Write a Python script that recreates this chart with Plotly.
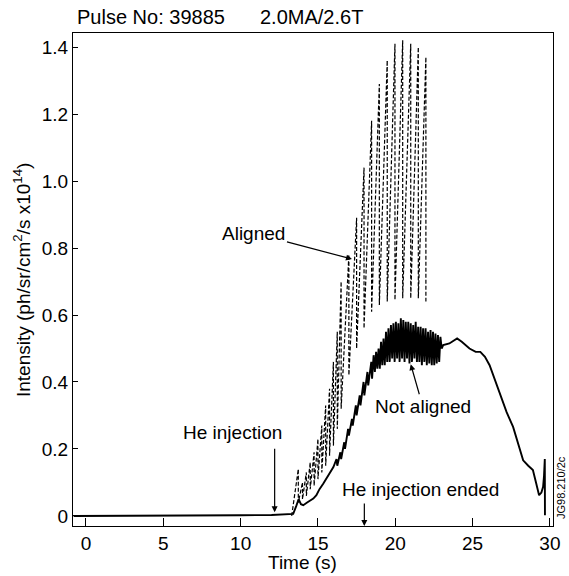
import plotly.graph_objects as go

# ---------------- data ----------------
# "Not aligned" (solid) trace: time (s) and intensity (x1e14)
na_time = [-0.8, 5.0, 10.0, 12.0, 13.0, 13.4, 13.6, 13.75, 13.9, 14.05, 14.3, 14.5, 14.7, 14.9,
           15.1, 15.35, 15.6, 15.8, 16.0, 16.2, 16.25, 16.45, 16.5, 16.7, 16.75, 16.95, 17.0,
           17.2, 17.25, 17.45, 17.5, 17.7, 17.75, 17.95, 18.0, 18.2, 18.25, 18.45, 18.5,
           18.60, 18.68, 18.76, 18.84, 18.92, 19.00, 19.08, 19.16, 19.24, 19.32, 19.40, 19.48,
           19.56, 19.64, 19.72, 19.80, 19.88, 19.96, 20.04, 20.12, 20.20, 20.28, 20.36, 20.44,
           20.52, 20.60, 20.68, 20.76, 20.84, 20.92, 21.00, 21.08, 21.16, 21.24, 21.32, 21.40,
           21.48, 21.56, 21.64, 21.72, 21.80, 21.88, 21.96, 22.04, 22.12, 22.20, 22.28, 22.36,
           22.44, 22.52, 22.60, 22.68, 22.76, 22.84, 22.92,
           23.0, 23.1, 23.5, 24.0, 24.3, 24.8, 25.2, 25.5, 25.8, 26.1, 26.4, 26.76,
           27.2, 27.62, 28.0, 28.27, 28.6, 28.9, 29.1, 29.3, 29.45, 29.56, 29.62, 29.67, 29.68]
na_value = [0.0, 0.0, 0.002, 0.003, 0.004, 0.006, 0.03, 0.05, 0.035, 0.032, 0.04, 0.045, 0.052, 0.062,
            0.08, 0.097, 0.115, 0.13, 0.146, 0.17, 0.15, 0.19, 0.17, 0.22, 0.2, 0.26, 0.24,
            0.29, 0.27, 0.33, 0.3, 0.36, 0.33, 0.4, 0.36, 0.43, 0.39, 0.46, 0.41,
            0.48, 0.43, 0.49, 0.44, 0.50, 0.44, 0.52, 0.45, 0.53, 0.45, 0.55, 0.46,
            0.56, 0.46, 0.57, 0.47, 0.575, 0.46, 0.58, 0.47, 0.575, 0.46, 0.59, 0.47,
            0.585, 0.46, 0.58, 0.47, 0.58, 0.455, 0.575, 0.46, 0.57, 0.47, 0.58, 0.46,
            0.565, 0.46, 0.565, 0.45, 0.56, 0.46, 0.56, 0.45, 0.55, 0.455, 0.555, 0.45,
            0.55, 0.45, 0.545, 0.455, 0.54, 0.46, 0.535,
            0.50, 0.51, 0.515, 0.53, 0.52, 0.50, 0.49, 0.49, 0.475, 0.45, 0.41, 0.366,
            0.31, 0.266, 0.21, 0.166, 0.15, 0.137, 0.10, 0.062, 0.07, 0.087, 0.12, 0.17, 0.002]

# "Aligned" (dashed) trace: sawtooth crash times with peak (before crash) and trough (after crash)
al_start_time = 13.3
al_start_value = 0.0
al_crash_time = [13.73, 14.0, 14.25, 14.5, 14.75, 15.0, 15.25, 15.5, 15.75, 16.0, 16.25,
                 16.5, 17.0, 17.5, 17.98, 18.47, 18.97, 19.48, 19.98, 20.48, 21.0, 21.49, 21.98]
al_high = [0.14, 0.10, 0.13, 0.16, 0.19, 0.23, 0.27, 0.33, 0.38, 0.46, 0.55,
           0.70, 0.78, 0.89, 1.04, 1.18, 1.29, 1.36, 1.41, 1.42, 1.41, 1.40, 1.37]
al_low = [0.04, 0.05, 0.06, 0.08, 0.09, 0.11, 0.13, 0.15, 0.18, 0.21, 0.26,
          0.32, 0.42, 0.50, 0.56, 0.61, 0.63, 0.64, 0.645, 0.65, 0.65, 0.65, 0.64]

x_ticks = [0, 5, 10, 15, 20, 25, 30]
y_ticks = [0, 0.2, 0.4, 0.6, 0.8, 1.0, 1.2, 1.4]
y_tick_labels = ["0", "0.2", "0.4", "0.6", "0.8", "1.0", "1.2", "1.4"]

# ---------------- build aligned path ----------------
al_x, al_y = [al_start_time], [al_start_value]
for t, hi, lo in zip(al_crash_time, al_high, al_low):
    al_x += [t, t]
    al_y += [hi, lo]

FONT = "Liberation Sans, Arial, Helvetica, sans-serif"
FS = 19
L, R, T, B = 73, 16, 33, 50
PW, PH = 569 - L - R, 576 - T - B


def px(xpix):
    return (xpix - L) / PW


def py(ypix):
    return (576 - B - ypix) / PH


fig = go.Figure()
fig.add_trace(go.Scatter(x=al_x, y=al_y, mode="lines",
                         line=dict(color="black", width=1.2, dash="4px,2px"),
                         showlegend=False, hoverinfo="skip"))
fig.add_trace(go.Scatter(x=na_time, y=na_value, mode="lines",
                         line=dict(color="black", width=1.9),
                         showlegend=False, hoverinfo="skip"))


def txt(size=FS):
    return dict(size=size, family=FONT, color="black")


anns = [
    dict(text="Pulse No: 39885", xref="paper", yref="paper", x=px(75), y=py(17),
         xanchor="left", yanchor="middle", showarrow=False, font=txt(20)),
    dict(text="2.0MA/2.6T", xref="paper", yref="paper", x=px(258), y=py(17),
         xanchor="left", yanchor="middle", showarrow=False, font=txt(20)),
    dict(text="Intensity (ph/sr/cm<sup>2</sup>/s x10<sup>14</sup>)", xref="paper", yref="paper",
         x=px(22), y=py(280), xanchor="center", yanchor="middle", textangle=-90,
         showarrow=False, font=txt()),
    dict(text="Time (s)", xref="paper", yref="paper", x=px(302), y=py(562),
         xanchor="center", yanchor="middle", showarrow=False, font=txt()),
    dict(text="Aligned", x=17.2, y=0.767, xref="x", yref="y", ax=-98, ay=-26,
         showarrow=True, arrowhead=2, arrowsize=1, arrowwidth=1.2, arrowcolor="black",
         font=txt()),
    dict(text="Not aligned", x=21.0, y=0.453, xref="x", yref="y", ax=12, ay=42,
         showarrow=True, arrowhead=2, arrowsize=1, arrowwidth=1.2, arrowcolor="black",
         font=txt()),
    dict(text="He injection", x=9.5, y=0.25, xref="x", yref="y", showarrow=False,
         font=txt()),
    dict(text="", x=12.2, y=0.011, xref="x", yref="y", ax=0, ay=-65,
         showarrow=True, arrowhead=2, arrowsize=1, arrowwidth=1.2, arrowcolor="black"),
    dict(text="He injection ended", x=21.6, y=0.08, xref="x", yref="y", showarrow=False,
         font=txt()),
    dict(text="", x=18.0, y=-0.030, xref="x", yref="y", ax=0, ay=-24,
         showarrow=True, arrowhead=2, arrowsize=1, arrowwidth=1.2, arrowcolor="black"),
    dict(text="JG98.210/2c", xref="paper", yref="paper", x=px(561), y=py(488),
         xanchor="center", yanchor="middle", showarrow=False, textangle=-90, font=txt(11)),
]

fig.update_layout(
    width=569, height=576,
    margin=dict(l=L, r=R, t=T, b=B),
    paper_bgcolor="white", plot_bgcolor="white",
    font=dict(family=FONT, size=FS, color="black"),
    annotations=anns,
    xaxis=dict(range=[-0.84, 30.2], tickvals=x_ticks, ticks="inside", ticklen=8,
               tickwidth=1, tickcolor="black", showline=True, linecolor="black",
               linewidth=1, mirror=True, showgrid=False, zeroline=False,
               automargin=False, tickfont=txt()),
    yaxis=dict(range=[-0.030, 1.442], tickvals=y_ticks, ticktext=y_tick_labels,
               ticks="inside", ticklen=5, tickwidth=1, tickcolor="black",
               showline=True, linecolor="black", linewidth=1, mirror=True,
               showgrid=False, zeroline=False, automargin=False, tickfont=txt()),
)

fig.write_html("out.html", config={"displayModeBar": False},
               post_script="document.body.style.margin='0';document.body.style.overflow='hidden';")
